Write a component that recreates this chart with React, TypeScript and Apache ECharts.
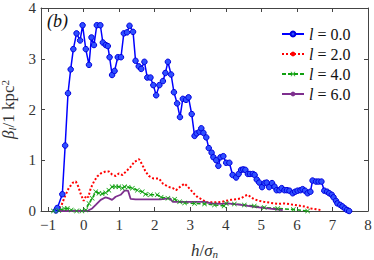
import React, { useEffect, useRef } from "react";
import * as echarts from "echarts";

const xTicks = [-1, 0, 1, 2, 3, 4, 5, 6, 7, 8];
const yTicks = [0, 1, 2, 3, 4];
const seriesNames = ["l = 0.0", "l = 2.0", "l = 4.0", "l = 6.0"];

const l0Data = [
  [-0.78, 0.01], [-0.74, 0.06], [-0.6, 0.33], [-0.52, 1.29], [-0.44, 2.32], [-0.365, 2.79],
  [-0.29, 3.19], [-0.2, 3.5], [-0.1, 3.36], [-0.03, 3.66], [0.06, 3.19], [0.15, 2.88],
  [0.22, 3.42], [0.29, 3.27], [0.37, 3.66], [0.47, 3.66], [0.54, 3.32], [0.62, 3.27],
  [0.68, 3.25], [0.73, 3.03], [0.8, 2.68], [0.87, 2.76], [0.96, 3.03], [1.05, 3.03],
  [1.13, 3.5], [1.22, 3.52], [1.29, 3.65], [1.39, 3.53], [1.46, 2.96], [1.55, 2.85],
  [1.62, 2.8], [1.71, 2.94], [1.79, 2.63], [1.88, 2.63], [1.96, 2.48], [2.04, 2.28],
  [2.13, 2.48], [2.23, 2.56], [2.3, 2.72], [2.37, 2.94], [2.46, 2.69], [2.54, 2.34],
  [2.63, 2.12], [2.71, 1.85], [2.79, 2.21], [2.88, 2.19], [2.95, 2.24], [3.04, 1.91],
  [3.12, 1.48], [3.18, 1.53], [3.26, 1.56], [3.31, 1.63], [3.37, 1.54], [3.45, 1.45],
  [3.52, 1.24], [3.6, 1.15], [3.65, 1.06], [3.73, 1.0], [3.79, 0.89], [3.85, 1.06],
  [3.93, 1.08], [4.01, 0.95], [4.1, 0.95], [4.19, 0.71], [4.29, 0.66], [4.36, 0.73],
  [4.43, 0.81], [4.49, 0.82], [4.55, 0.81], [4.62, 0.73], [4.68, 0.73], [4.76, 0.73],
  [4.81, 0.71], [4.87, 0.62], [4.94, 0.56], [5.02, 0.47], [5.09, 0.55], [5.15, 0.56],
  [5.22, 0.47], [5.3, 0.55], [5.37, 0.48], [5.43, 0.41], [5.51, 0.41], [5.57, 0.45],
  [5.65, 0.41], [5.72, 0.41], [5.79, 0.4], [5.88, 0.35], [5.95, 0.38], [6.02, 0.4],
  [6.1, 0.41], [6.16, 0.43], [6.23, 0.4], [6.3, 0.35], [6.38, 0.38], [6.44, 0.6],
  [6.54, 0.58], [6.61, 0.58], [6.69, 0.58], [6.77, 0.4], [6.85, 0.38], [6.91, 0.35],
  [6.98, 0.32], [7.03, 0.27], [7.1, 0.2], [7.14, 0.15], [7.22, 0.12], [7.28, 0.09],
  [7.35, 0.05], [7.41, 0.02], [7.47, 0.0],
];

const l2Data = [
  [-0.76, 0.0], [-0.62, 0.12], [-0.52, 0.3], [-0.42, 0.45], [-0.3, 0.56], [-0.22, 0.58],
  [-0.15, 0.48], [-0.08, 0.33], [0.0, 0.2], [0.07, 0.3], [0.13, 0.27], [0.2, 0.45],
  [0.29, 0.58], [0.38, 0.68], [0.48, 0.74], [0.62, 0.78], [0.71, 0.78], [0.8, 0.72],
  [0.9, 0.69], [0.99, 0.74], [1.09, 0.71], [1.21, 0.79], [1.32, 0.87], [1.43, 0.97],
  [1.56, 1.02], [1.65, 0.91], [1.74, 0.78], [1.83, 0.69], [1.97, 0.64], [2.12, 0.64],
  [2.23, 0.54], [2.37, 0.48], [2.51, 0.45], [2.6, 0.41], [2.72, 0.48], [2.84, 0.54],
  [2.93, 0.48], [3.03, 0.4], [3.12, 0.33], [3.21, 0.27], [3.35, 0.22], [3.45, 0.17],
  [3.59, 0.17], [3.73, 0.17], [3.87, 0.18], [4.01, 0.2], [4.15, 0.22], [4.29, 0.23],
  [4.43, 0.25], [4.54, 0.3], [4.62, 0.32], [4.71, 0.27], [4.8, 0.23], [4.94, 0.2],
  [5.08, 0.18], [5.27, 0.16], [5.46, 0.14], [5.65, 0.15], [5.93, 0.12], [6.21, 0.09],
  [6.4, 0.05], [6.67, 0.02],
];

const l4Data = [
  [-0.85, 0.0], [-0.7, 0.01], [-0.55, 0.05], [-0.46, 0.05], [-0.35, 0.02], [-0.2, 0.0],
  [-0.05, 0.0], [0.06, 0.02], [0.15, 0.15], [0.24, 0.25], [0.34, 0.38], [0.43, 0.35],
  [0.52, 0.34], [0.62, 0.36], [0.71, 0.41], [0.8, 0.48], [0.9, 0.48], [0.99, 0.48],
  [1.09, 0.45], [1.15, 0.48], [1.25, 0.47], [1.37, 0.45], [1.51, 0.41], [1.65, 0.38],
  [1.74, 0.33], [1.88, 0.32], [2.07, 0.32], [2.18, 0.27], [2.37, 0.25], [2.56, 0.23],
  [2.7, 0.18], [2.84, 0.16], [3.12, 0.15], [3.4, 0.14], [3.68, 0.12], [3.95, 0.1],
  [4.01, 0.15], [4.24, 0.14], [4.52, 0.12], [4.8, 0.1], [5.08, 0.07], [5.46, 0.05],
  [5.9, 0.03], [6.3, 0.0],
];

const l6Data = [
  [-0.85, 0.0], [-0.4, 0.0], [0.1, 0.0], [0.24, 0.05], [0.34, 0.12], [0.48, 0.22],
  [0.62, 0.27], [0.71, 0.25], [0.8, 0.22], [0.9, 0.28], [1.04, 0.32], [1.15, 0.4],
  [1.25, 0.4], [1.32, 0.24], [1.46, 0.23], [2.16, 0.23], [2.42, 0.25], [2.51, 0.18],
  [2.93, 0.18], [3.4, 0.18], [3.59, 0.15], [3.87, 0.14], [4.05, 0.15], [4.43, 0.12],
  [4.8, 0.08], [5.18, 0.05], [5.6, 0.02],
];

const SERIF = "Liberation Serif";
const AXIS_COLOR = "#444";
const TXT = "#333";
const xSymbol = "path://M0,1L1,0L5,4L9,0L10,1L6,5L10,9L9,10L5,6L1,10L0,9L4,5Z";

export default function App() {
  const ref = useRef<HTMLDivElement>(null);
  useEffect(() => {
    if (!ref.current) return;
    const chart = echarts.init(ref.current, null, { renderer: "svg" });
    const fmtX = (v: number) => (v < 0 ? "\u2212" + Math.abs(v) : String(v));
    const baseX = {
      type: "value",
      min: -1.2,
      max: 8,
      splitLine: { show: false },
      axisLine: { show: true, onZero: false, lineStyle: { color: AXIS_COLOR, width: 1 } },
    };
    const baseY = {
      type: "value",
      min: 0,
      max: 4,
      interval: 1,
      splitLine: { show: false },
      axisLine: { show: true, onZero: false, lineStyle: { color: AXIS_COLOR, width: 1 } },
      axisTick: { show: true, inside: true, length: 4, lineStyle: { color: AXIS_COLOR } },
    };
    const richName = {
      i: { fontFamily: SERIF, fontStyle: "italic", fontSize: 17, lineHeight: 18, color: TXT },
      n: { fontFamily: SERIF, fontSize: 17, lineHeight: 18, color: TXT },
      s: { fontFamily: SERIF, fontStyle: "italic", fontSize: 11, lineHeight: 11, verticalAlign: "bottom", color: TXT },
      p: { fontFamily: SERIF, fontSize: 11, lineHeight: 11, verticalAlign: "top", color: TXT },
    };
    chart.setOption({
      animation: false,
      backgroundColor: "#fff",
      textStyle: { fontFamily: SERIF },
      grid: { left: 41, right: 6, top: 8, bottom: 49, outerBoundsMode: "none", containLabel: false },
      legend: {
        orient: "vertical",
        left: 276,
        top: 21,
        itemWidth: 22,
        itemHeight: 6,
        itemGap: 4,
        data: seriesNames,
        formatter: (n: string) => "{i|l}{t|" + n.slice(1) + "}",
        textStyle: {
          fontFamily: SERIF,
          fontSize: 16,
          color: "#111",
          lineHeight: 15,
          rich: {
            i: { fontFamily: SERIF, fontStyle: "italic", fontSize: 16, color: "#111" },
            t: { fontFamily: SERIF, fontSize: 16, color: "#111" },
          },
        },
      },
      xAxis: [
        {
          ...baseX,
          position: "bottom",
          axisTick: { show: true, inside: true, length: 4, customValues: xTicks, lineStyle: { color: AXIS_COLOR } },
          axisLabel: {
            customValues: xTicks,
            formatter: fmtX,
            fontFamily: SERIF,
            fontSize: 15,
            color: TXT,
            margin: 6,
          },
          name: "{i|h}{n|/}{i|σ}{s|n}",
          nameLocation: "middle",
          nameGap: 30,
          nameTextStyle: { rich: richName },
        },
        {
          ...baseX,
          position: "top",
          axisTick: { show: true, inside: true, length: 4, customValues: xTicks, lineStyle: { color: AXIS_COLOR } },
          axisLabel: { show: false },
        },
      ],
      yAxis: [
        {
          ...baseY,
          position: "left",
          axisLabel: {
            fontFamily: SERIF,
            fontSize: 15,
            color: TXT,
            margin: 5,
            customValues: yTicks,
          },
          name: "{i|β}{s|l}{n|/1 kpc}{p|2}",
          nameLocation: "middle",
          nameRotate: 90,
          nameGap: 20,
          nameTextStyle: { rich: richName },
        },
        {
          ...baseY,
          position: "right",
          axisLabel: { show: false },
        },
      ],
      graphic: [
        {
          type: "text",
          left: 47,
          top: 12,
          style: { text: "(b)", fontFamily: SERIF, fontStyle: "italic", fontSize: 18, fill: "#111" },
        },
      ],
      series: [
        {
          name: seriesNames[0],
          type: "line",
          data: l0Data,
          symbol: "circle",
          symbolSize: 5.5,
          showSymbol: true,
          itemStyle: { color: "#2f4fff", borderColor: "#0000dd", borderWidth: 1 },
          lineStyle: { color: "#0000ff", width: 1.5 },
        },
        {
          name: seriesNames[1],
          type: "line",
          data: l2Data,
          symbol: "none",
          itemStyle: { color: "#ff0000" },
          lineStyle: { color: "#ff0000", width: 2, type: [2, 2] },
        },
        {
          name: seriesNames[2],
          type: "line",
          data: l4Data,
          symbol: xSymbol,
          symbolSize: 5,
          itemStyle: { color: "#10a010" },
          lineStyle: { color: "#10a010", width: 1.5, type: [4, 2] },
        },
        {
          name: seriesNames[3],
          type: "line",
          data: l6Data,
          symbol: "none",
          itemStyle: { color: "#7e2f8e" },
          lineStyle: { color: "#7e2f8e", width: 1.8 },
        },
      ],
    } as any);
    return () => chart.dispose();
  }, []);
  return <div ref={ref} style={{ width: 374, height: 260, position: "absolute", left: 0, top: 0 }} />;
}
